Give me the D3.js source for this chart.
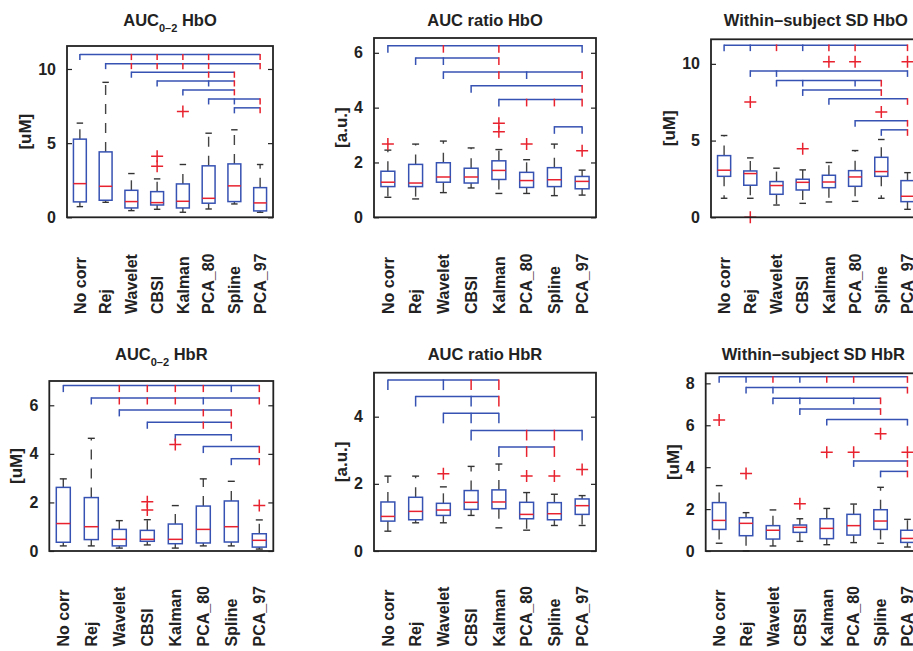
<!DOCTYPE html>
<html>
<head>
<meta charset="utf-8">
<script src="https://cdn.jsdelivr.net/npm/d3@7"></script>
<style>
  body { margin: 0; background: #fff; }
  text { font-family: "Liberation Sans", Arial, Helvetica, sans-serif; font-weight: bold; fill: #222; }
</style>
</head>
<body>
<svg id="fig" width="913" height="651"></svg>
<script>
// ---- data -------------------------------------------------------------
const methods = ["No corr", "Rej", "Wavelet", "CBSI", "Kalman", "PCA_80", "Spline", "PCA_97"];

// box statistics per method: [lower whisker, Q1, median, Q3, upper whisker]
const aucHbO = [
  [0.72, 1.04, 2.27, 5.27, 6.35], [1.01, 1.15, 2.09, 4.41, 9.10], [0.45, 0.63, 1.06, 1.82, 2.95],
  [0.54, 0.83, 0.99, 1.73, 2.59], [0.34, 0.63, 1.08, 2.25, 3.56], [0.56, 0.95, 1.28, 3.47, 5.67],
  [0.90, 1.06, 2.12, 3.60, 5.90], [0.34, 0.43, 0.97, 2.00, 3.56]
];
const aucHbOOut = [[], [], [], [3.45, 4.12], [7.14], [], [], []];

const ratioHbO = [
  [0.73, 1.12, 1.28, 1.68, 2.45], [0.67, 1.12, 1.25, 1.93, 2.67], [0.90, 1.28, 1.47, 1.99, 2.78],
  [1.07, 1.25, 1.47, 1.79, 2.53], [0.87, 1.38, 1.71, 2.06, 2.47], [0.87, 1.09, 1.34, 1.64, 2.10],
  [0.79, 1.12, 1.37, 1.81, 2.67], [0.81, 1.04, 1.31, 1.49, 1.72]
];
const ratioHbOOut = [[2.67], [], [], [], [3.12, 3.43], [2.67], [], [2.43]];

const sdHbO = [
  [1.24, 2.67, 3.07, 4.02, 5.33], [1.24, 2.09, 2.85, 3.02, 3.87], [0.80, 1.50, 2.07, 2.33, 3.20],
  [0.91, 1.78, 2.28, 2.48, 3.09], [1.00, 1.93, 2.30, 2.74, 3.57], [1.04, 2.02, 2.63, 3.04, 4.35],
  [1.24, 2.67, 2.98, 3.91, 5.07], [0.52, 1.02, 1.37, 2.39, 2.91]
];
const sdHbOOut = [[], [7.52, 0.0], [], [4.46], [10.13], [10.13], [6.87], [10.13]];

const aucHbR = [
  [0.21, 0.36, 1.13, 2.62, 2.97], [0.21, 0.47, 1.00, 2.20, 4.64], [0.12, 0.21, 0.48, 0.89, 1.25],
  [0.25, 0.40, 0.48, 0.85, 1.29], [0.12, 0.30, 0.48, 1.11, 1.87], [0.21, 0.33, 0.89, 1.85, 2.97],
  [0.21, 0.37, 1.00, 2.06, 2.87], [0.08, 0.16, 0.44, 0.71, 1.28]
];
const aucHbROut = [[], [], [], [1.69, 2.03], [4.39], [], [], [1.87]];

const ratioHbR = [
  [0.59, 0.89, 1.03, 1.46, 2.23], [0.84, 0.93, 1.18, 1.60, 2.23], [0.84, 1.06, 1.22, 1.42, 1.91],
  [1.06, 1.24, 1.45, 1.80, 2.52], [0.69, 1.26, 1.46, 1.82, 2.59], [0.62, 0.96, 1.09, 1.45, 1.74],
  [0.76, 0.93, 1.11, 1.44, 1.69], [0.76, 1.09, 1.35, 1.55, 1.65]
];
const ratioHbROut = [[], [], [2.30], [], [], [2.23], [2.23], [2.43]];

const sdHbR = [
  [0.37, 1.03, 1.46, 2.31, 3.12], [0.00, 0.73, 1.32, 1.59, 1.83], [0.24, 0.57, 0.99, 1.21, 1.96],
  [0.46, 0.89, 1.13, 1.24, 1.54], [0.30, 0.59, 1.08, 1.54, 2.03], [0.40, 0.76, 1.21, 1.75, 2.24],
  [0.37, 1.03, 1.43, 1.97, 3.04], [0.19, 0.41, 0.60, 0.99, 1.51]
];
const sdHbROut = [[6.25], [3.70], [], [2.26], [4.71], [4.71], [5.60], [4.71]];

// pairwise comparison brackets: level of the bar and a mark per method
// (B = comparison not significant, R = significant, . = no mark)
const aucHbOPairs = [
  [10.97, "B.RRRR.R"], [10.36, ".BRRRR.R"], [9.78, "..B..RR."], [9.19, "...B.BR."],
  [8.59, "....B.R."], [7.98, ".....BBR"], [7.38, "......BR"]
];
const ratioHbOPairs = [
  [6.26, "B.R.R..B"], [5.81, ".BB.R..."], [5.30, "..B.RB.R"], [4.80, "...B...R"],
  [4.30, "....BRRR"], [3.30, "......BB"]
];
const sdHbOPairs = [
  [11.22, "BBRBRR.R"], [9.54, ".BB....B"], [8.91, "..BB.BR."], [8.30, "...B..R."],
  [7.72, "....B..R"], [6.30, ".....B.R"], [5.70, "......BR"]
];
const aucHbRPairs = [
  [6.81, "B.RRRRBR"], [6.30, ".BRRRB.R"], [5.81, "..B..RR."], [5.30, "...B.RR."],
  [4.79, "....B.B."], [4.30, ".....B.R"], [3.80, "......BR"]
];
const ratioHbRPairs = [
  [5.09, "B.BRR..."], [4.60, ".B.BR..."], [4.10, "..BBB..."], [3.59, "...B.RRB"], [3.10, "....BRR."]
];
const sdHbRPairs = [
  [8.31, "BBRBRR.R"], [7.80, ".BB....R"], [7.29, "..BB.BR."], [6.78, "...B..R."],
  [6.27, "....B..B"], [4.30, ".....B.R"], [3.80, "......BR"]
];

const ticksAucHbO = [0, 5, 10];
const ticksRatioHbO = [0, 2, 4, 6];
const ticksSdHbO = [0, 5, 10];
const ticksAucHbR = [0, 2, 4, 6];
const ticksRatioHbR = [0, 2, 4];
const ticksSdHbR = [0, 2, 4, 6, 8];

// ---- panels -----------------------------------------------------------
const panels = [
  { title: ["AUC", "0–2", " HbO"], unit: "[uM]", stats: aucHbO, out: aucHbOOut, pairs: aucHbOPairs, ticks: ticksAucHbO,
    ymax: 11.55, box: [67, 273, 46, 217.3], titleY: 26, labelY: 314, hook: 5.5 },
  { title: ["AUC ratio HbO"], unit: "[a.u.]", stats: ratioHbO, out: ratioHbOOut, pairs: ratioHbOPairs, ticks: ticksRatioHbO,
    ymax: 6.54, box: [374, 596, 38, 217.3], titleY: 26, labelY: 314, hook: 7 },
  { title: ["Within–subject SD HbO"], unit: "[uM]", stats: sdHbO, out: sdHbOOut, pairs: sdHbOPairs, ticks: ticksSdHbO,
    ymax: 11.6, box: [711, 920.6, 39.3, 217.3], titleY: 26, labelY: 314, hook: 6 },
  { title: ["AUC", "0–2", " HbR"], unit: "[uM]", stats: aucHbR, out: aucHbROut, pairs: aucHbRPairs, ticks: ticksAucHbR,
    ymax: 7.0, box: [49.3, 273.3, 381, 551], titleY: 360, labelY: 646.5, hook: 6.5 },
  { title: ["AUC ratio HbR"], unit: "[a.u.]", stats: ratioHbR, out: ratioHbROut, pairs: ratioHbRPairs, ticks: ticksRatioHbR,
    ymax: 5.31, box: [374, 596, 372.7, 551], titleY: 360, labelY: 646.5, hook: 10 },
  { title: ["Within–subject SD HbR"], unit: "[uM]", stats: sdHbR, out: sdHbROut, pairs: sdHbRPairs, ticks: ticksSdHbR,
    ymax: 8.48, box: [705.7, 920.9, 373.3, 551], titleY: 360, labelY: 646.5, hook: 6 }
];

const BLUE = "#3652b2", RED = "#e8222e", INK = "#222";
const svg = d3.select("#fig");

panels.forEach(p => {
  const [x0, x1, y0, y1] = p.box;
  const x = d3.scalePoint().domain(methods).range([x0, x1]).padding(0.5);
  const y = d3.scaleLinear().domain([0, p.ymax]).range([y1, y0]);
  const step = x.step();
  const bw = step * 0.5, cw = step * 0.25;
  const g = svg.append("g");

  // significance brackets
  p.pairs.forEach(([lvl, marks]) => {
    const idx = [...marks].map((c, i) => c === "." ? -1 : i).filter(i => i >= 0);
    const yy = y(lvl);
    g.append("line")
      .attr("x1", x(methods[idx[0]])).attr("x2", x(methods[idx[idx.length - 1]]))
      .attr("y1", yy).attr("y2", yy)
      .attr("stroke", BLUE).attr("stroke-width", 1.5);
    idx.forEach(i => {
      g.append("line")
        .attr("x1", x(methods[i])).attr("x2", x(methods[i]))
        .attr("y1", yy - 0.7).attr("y2", yy + p.hook)
        .attr("stroke", marks[i] === "R" ? RED : BLUE).attr("stroke-width", 1.5);
    });
  });

  // boxes
  p.stats.forEach((s, i) => {
    const cx = x(methods[i]);
    const [lo, q1, med, q3, hi] = s;
    // whiskers (dashed), drawn outward from the box
    g.append("line").attr("x1", cx).attr("x2", cx).attr("y1", y(q3)).attr("y2", y(hi))
      .attr("stroke", "#444").attr("stroke-width", 1.4).attr("stroke-dasharray", "10,9");
    g.append("line").attr("x1", cx).attr("x2", cx).attr("y1", y(q1)).attr("y2", y(lo))
      .attr("stroke", "#444").attr("stroke-width", 1.4).attr("stroke-dasharray", "10,9");
    [lo, hi].forEach(v => {
      g.append("line").attr("x1", cx - cw / 2).attr("x2", cx + cw / 2).attr("y1", y(v)).attr("y2", y(v))
        .attr("stroke", "#333").attr("stroke-width", 1.4);
    });
    g.append("rect").attr("x", cx - bw / 2).attr("y", y(q3)).attr("width", bw).attr("height", y(q1) - y(q3))
      .attr("fill", "none").attr("stroke", BLUE).attr("stroke-width", 1.5);
    g.append("line").attr("x1", cx - bw / 2).attr("x2", cx + bw / 2).attr("y1", y(med)).attr("y2", y(med))
      .attr("stroke", RED).attr("stroke-width", 1.5);
    // outliers
    p.out[i].forEach(v => {
      const oy = y(v), r = 6;
      g.append("path").attr("d", `M${cx - r},${oy}H${cx + r}M${cx},${oy - r}V${oy + r}`)
        .attr("stroke", RED).attr("stroke-width", 1.5).attr("fill", "none");
    });
  });

  // axes frame and y ticks
  g.append("rect").attr("x", x0).attr("y", y0).attr("width", x1 - x0).attr("height", y1 - y0)
    .attr("fill", "none").attr("stroke", INK).attr("stroke-width", 1.8);
  const yAxis = d3.axisLeft(y).tickValues(p.ticks).tickSize(-5).tickPadding(11).tickFormat(d3.format("d"));
  const ax = g.append("g").attr("transform", `translate(${x0},0)`).call(yAxis);
  ax.select(".domain").remove();
  ax.selectAll(".tick line").attr("stroke", INK).attr("stroke-width", 1.2);
  ax.selectAll(".tick text").attr("font-size", 16).attr("fill", INK)
    .style("font-family", '"Liberation Sans", Arial, sans-serif').style("font-weight", "bold");
  const axR = g.append("g").attr("transform", `translate(${x1},0)`)
    .call(d3.axisRight(y).tickValues(p.ticks).tickSize(-5).tickFormat(""));
  axR.select(".domain").remove();
  axR.selectAll(".tick line").attr("stroke", INK).attr("stroke-width", 1.2);

  // y label
  const maxLen = d3.max(p.ticks, t => String(t).length);
  const lx = x0 - (maxLen > 1 ? 42 : 33);
  g.append("text")
    .attr("transform", `translate(${lx},${(y0 + y1) / 2}) rotate(-90)`)
    .attr("text-anchor", "middle").attr("dy", "0.35em").attr("font-size", 17)
    .text(p.unit);

  // title
  const t = g.append("text").attr("x", (x0 + x1) / 2).attr("y", p.titleY)
    .attr("text-anchor", "middle").attr("font-size", 16.5);
  if (p.title.length === 3) {
    t.append("tspan").text(p.title[0]);
    t.append("tspan").attr("font-size", 11).attr("dy", 6).text(p.title[1]);
    t.append("tspan").attr("dy", -6).text(p.title[2]);
  } else {
    t.text(p.title[0]);
  }

  // rotated category labels
  methods.forEach(m => {
    g.append("text")
      .attr("transform", `translate(${x(m)},${p.labelY}) rotate(-90)`)
      .attr("text-anchor", "start").attr("dy", "0.36em").attr("font-size", 16)
      .text(m);
  });
});
</script>
</body>
</html>
